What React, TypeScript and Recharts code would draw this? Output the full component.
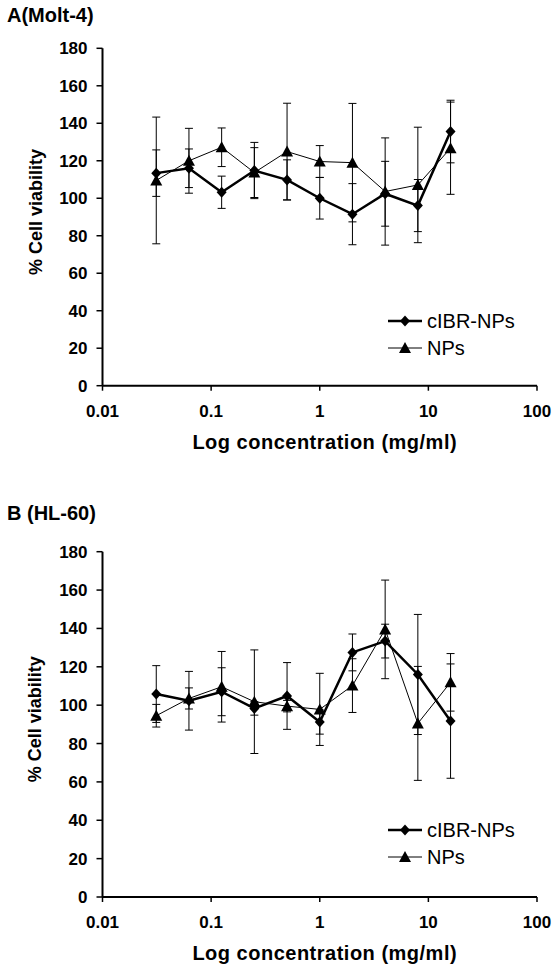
import React from "react";
import { LineChart, Line, XAxis, YAxis, ErrorBar, Legend, Label } from "recharts";

// concentrations in mg/ml (two-fold dilutions)
const concentrations = [0.03125, 0.0625, 0.125, 0.25, 0.5, 1, 2, 4, 8, 16];

// A (Molt-4)
const molt4Cibr = [113.4, 116.0, 103.2, 114.8, 109.8, 100.0, 91.5, 102.4, 96.1, 135.6];
const molt4CibrErr = [12.4, 10.3, 8.6, 15.0, 10.7, 11.1, 16.3, 17.3, 13.9, 16.7];
const molt4Nps = [109.5, 120.0, 127.2, 113.7, 124.9, 119.6, 119.0, 103.6, 107.1, 126.7];
const molt4NpsErr = [33.8, 17.3, 10.3, 13.3, 25.8, 8.5, 31.6, 28.6, 30.8, 24.6];

// B (HL-60)
const hl60Cibr = [105.8, 102.3, 107.0, 98.3, 104.8, 91.2, 127.5, 133.4, 116.0, 91.7];
const hl60CibrErr = [14.8, 15.3, 12.5, 3.5, 17.4, 6.3, 9.6, 8.8, 31.3, 29.8];
const hl60Nps = [94.5, 103.5, 109.6, 101.8, 99.5, 97.8, 110.2, 139.5, 90.5, 111.9];
const hl60NpsErr = [5.9, 5.5, 18.4, 27.0, 3.0, 18.8, 14.0, 25.7, 29.7, 15.0];

const xTicks = [0.01, 0.1, 1, 10, 100];
const yTicks = [0, 20, 40, 60, 80, 100, 120, 140, 160, 180];

const FONT = "'Liberation Sans', Arial, Helvetica, sans-serif";

function buildRows(cibr: number[], cibrErr: number[], nps: number[], npsErr: number[]) {
  return concentrations.map((conc, i) => ({
    conc,
    cibr: cibr[i],
    cibrErr: cibrErr[i],
    nps: nps[i],
    npsErr: npsErr[i],
  }));
}

function diamondPoints(cx: number, cy: number) {
  return `${cx},${cy - 5.5} ${cx + 5},${cy} ${cx},${cy + 5.5} ${cx - 5},${cy}`;
}

function trianglePoints(cx: number, cy: number) {
  return `${cx},${cy - 6} ${cx + 6},${cy + 5} ${cx - 6},${cy + 5}`;
}

function DiamondDot(props: any) {
  const { cx, cy } = props;
  if (cx == null || cy == null) return null;
  return <polygon points={diamondPoints(cx, cy)} fill="#000" />;
}

function TriangleDot(props: any) {
  const { cx, cy } = props;
  if (cx == null || cy == null) return null;
  return <polygon points={trianglePoints(cx, cy)} fill="#000" />;
}

function LegendRow({ label, thick, marker }: { label: string; thick: boolean; marker: string }) {
  return (
    <div style={{ display: "flex", alignItems: "center", height: 27 }}>
      <svg width={36} height={20}>
        <line x1={0} y1={10} x2={34} y2={10} stroke="#000" strokeWidth={thick ? 2.5 : 1} />
        <polygon points={marker === "diamond" ? diamondPoints(17, 10) : trianglePoints(17, 10)} fill="#000" />
      </svg>
      <span style={{ marginLeft: 3 }}>{label}</span>
    </div>
  );
}

function LegendBox() {
  return (
    <div style={{ fontFamily: FONT, fontSize: 20, color: "#000", lineHeight: "22px" }}>
      <LegendRow label="cIBR-NPs" thick marker="diamond" />
      <LegendRow label="NPs" thick={false} marker="triangle" />
    </div>
  );
}

const tickStyle = { fontFamily: FONT, fontSize: 17, fontWeight: 700, fill: "#000" };

function Panel({ rows, height, plotTop, plotBottom, legendTop }: any) {
  return (
    <LineChart
      width={559}
      height={height}
      data={rows}
      margin={{ top: plotTop, right: 22, bottom: 0, left: 0 }}
    >
      <XAxis
        dataKey="conc"
        type="number"
        scale="log"
        domain={[0.01, 100]}
        ticks={xTicks}
        allowDataOverflow
        height={height - plotBottom}
        tickFormatter={(v: number) => String(v)}
        tick={tickStyle}
        tickSize={5}
        tickMargin={14}
        axisLine={{ stroke: "#000", strokeWidth: 2 }}
        tickLine={{ stroke: "#000", strokeWidth: 1.5 }}
      >
        <Label
          content={(p: any) => {
            const vb = p.viewBox;
            return (
              <text
                x={vb.x + vb.width / 2 + 5}
                y={vb.y + 63}
                textAnchor="middle"
                fontFamily={FONT}
                fontSize={20}
                fontWeight={700}
                letterSpacing={0.5}
                fill="#000"
              >
                Log concentration (mg/ml)
              </text>
            );
          }}
        />
      </XAxis>
      <YAxis
        type="number"
        domain={[0, 180]}
        ticks={yTicks}
        width={102.5}
        tick={tickStyle}
        tickSize={6}
        tickMargin={9}
        axisLine={{ stroke: "#000", strokeWidth: 2 }}
        tickLine={{ stroke: "#000", strokeWidth: 1.5 }}
      >
        <Label
          content={(p: any) => {
            const vb = p.viewBox;
            const cy = vb.y + vb.height / 2 - 5;
            return (
              <text
                x={35.5}
                y={cy}
                transform={`rotate(-90 35.5 ${cy})`}
                textAnchor="middle"
                dominantBaseline="central"
                fontFamily={FONT}
                fontSize={18}
                fontWeight={700}
                fill="#000"
              >
                % Cell viability
              </text>
            );
          }}
        />
      </YAxis>
      <Legend
        layout="horizontal"
        align="center"
        verticalAlign="middle"
        content={() => <LegendBox />}
        wrapperStyle={{ left: 388, top: legendTop, width: "auto" }}
      />
      <Line
        dataKey="nps"
        name="NPs"
        type="linear"
        stroke="#000"
        strokeWidth={1}
        dot={<TriangleDot />}
        activeDot={false}
        isAnimationActive={false}
      >
        <ErrorBar dataKey="npsErr" direction="y" width={4} stroke="#000" strokeWidth={1} />
      </Line>
      <Line
        dataKey="cibr"
        name="cIBR-NPs"
        type="linear"
        stroke="#000"
        strokeWidth={2.5}
        dot={<DiamondDot />}
        activeDot={false}
        isAnimationActive={false}
      >
        <ErrorBar dataKey="cibrErr" direction="y" width={4} stroke="#000" strokeWidth={1} />
      </Line>
    </LineChart>
  );
}

const titleStyle: React.CSSProperties = {
  position: "absolute",
  left: 7,
  fontFamily: FONT,
  fontSize: 20,
  fontWeight: 700,
  lineHeight: "22px",
  color: "#000",
  whiteSpace: "nowrap",
};

export default function App() {
  const molt4Rows = buildRows(molt4Cibr, molt4CibrErr, molt4Nps, molt4NpsErr);
  const hl60Rows = buildRows(hl60Cibr, hl60CibrErr, hl60Nps, hl60NpsErr);
  return (
    <div style={{ position: "absolute", top: 0, left: 0, width: 559, height: 970, background: "#fff" }}>
      <div style={{ position: "absolute", top: 0, left: 0 }}>
        <Panel rows={molt4Rows} height={480} plotTop={48.3} plotBottom={385.7} legendTop={307} />
      </div>
      <div style={{ position: "absolute", top: 480, left: 0 }}>
        <Panel rows={hl60Rows} height={490} plotTop={71.7} plotBottom={417} legendTop={336.5} />
      </div>
      <div style={{ ...titleStyle, top: 4 }}>A(Molt-4)</div>
      <div style={{ ...titleStyle, top: 502 }}>B (HL-60)</div>
    </div>
  );
}
